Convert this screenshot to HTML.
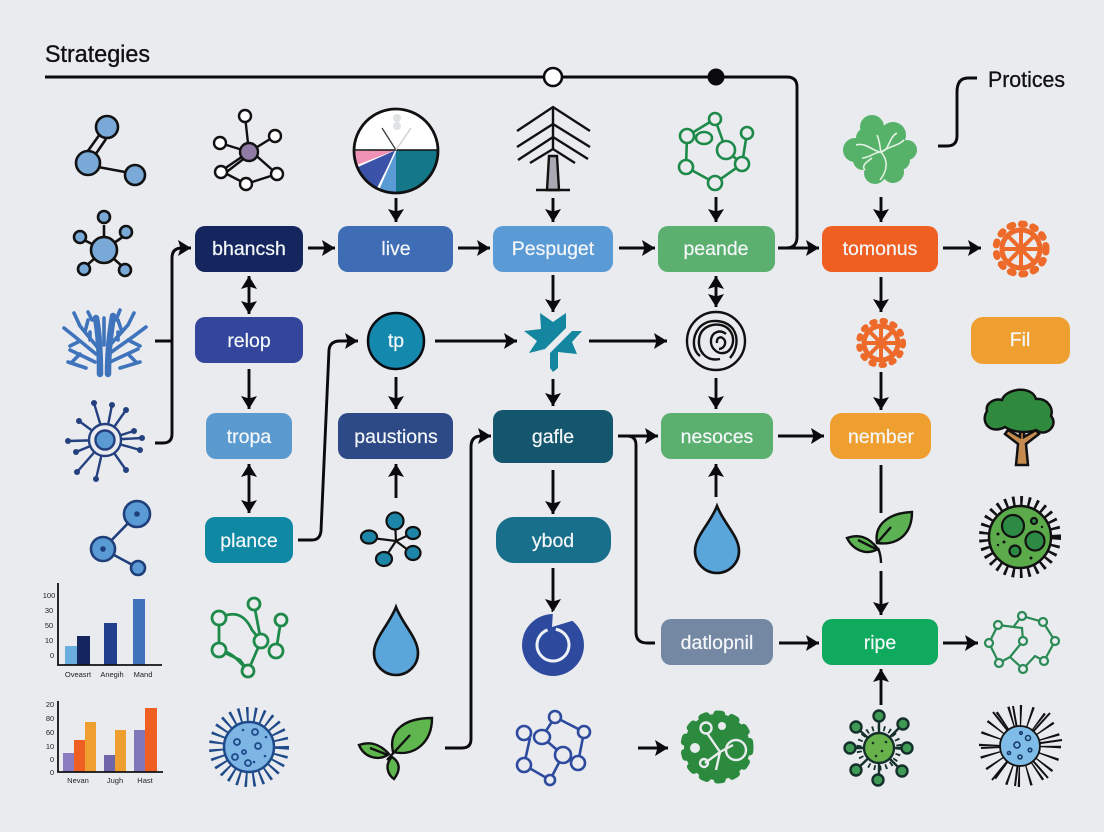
<!DOCTYPE html>
<html><head><meta charset="utf-8"><style>
html,body{margin:0;padding:0;background:#e9ebee}
svg{display:block}
text{font-family:"Liberation Sans",sans-serif}
.n{fill:#f4f7f9;font-size:19.5px;text-anchor:middle;stroke:#f4f7f9;stroke-width:.2}
.c{fill:none;stroke:#0b0b0f;stroke-width:2.9;stroke-linecap:butt}
.a{marker-end:url(#m)}
.b{marker-end:url(#m);marker-start:url(#ms)}
.s{font-size:7.5px;fill:#222;text-anchor:middle}
</style></head><body>
<svg width="1104" height="832" viewBox="0 0 1104 832" xmlns="http://www.w3.org/2000/svg">
<defs>
<marker id="m" markerUnits="userSpaceOnUse" markerWidth="15" markerHeight="18" refX="13" refY="9" orient="auto"><path d="M0,1 L13,9 L0,17 L2.5,9 Z" fill="#0b0b0f"/></marker>
<marker id="ms" markerUnits="userSpaceOnUse" markerWidth="15" markerHeight="18" refX="0" refY="9" orient="auto"><path d="M13,1 L0,9 L13,17 L10.5,9 Z" fill="#0b0b0f"/></marker>
</defs>
<rect width="1104" height="832" fill="#e9ebee"/>

<text x="45" y="62" font-size="24" fill="#111" stroke="#111" stroke-width=".35" textLength="105" lengthAdjust="spacingAndGlyphs">Strategies</text>
<text x="988" y="87" font-size="22" fill="#111" stroke="#111" stroke-width=".3" textLength="77" lengthAdjust="spacingAndGlyphs">Protices</text>

<!-- connectors -->
<path class="c" d="M45,77 H787 Q797,77 797,87 V237 Q797,248 786,248 H778"/>
<path class="c" d="M938,146 H947 Q957,146 957,136 V92 Q957,78 968,78 H977"/>
<circle cx="553" cy="77" r="9" fill="#fff" stroke="#0b0b0f" stroke-width="2.6"/>
<circle cx="716" cy="77" r="8.5" fill="#0b0b0f"/>
<path class="c" d="M155,341 H172"/>
<path class="c a" d="M155,443 H163 Q172,443 172,434 V258 Q172,248 182,248 H191"/>
<path class="c a" d="M298,540 H312 Q320,540 321,531 L329,350 Q330,341 340,341 H358"/>
<path class="c a" d="M445,748 H462 Q471,748 471,739 V447 Q471,436 481,436 H491"/>
<path class="c" d="M618,436 H627 Q636,436 636,445 V632 Q636,643 647,643 H655"/>
<path class="c" d="M881,465 V513"/>
<path class="c a" d="M308,248 H335"/><path class="c a" d="M458,248 H490"/><path class="c a" d="M619,248 H655"/>
<path class="c a" d="M779,248 H819"/><path class="c a" d="M943,248 H981"/>
<path class="c a" d="M396,198 V222"/><path class="c a" d="M553,198 V222"/><path class="c a" d="M716,197 V222"/><path class="c a" d="M881,197 V222"/>
<path class="c b" d="M249,276 V314"/><path class="c a" d="M249,369 V409"/><path class="c b" d="M249,464 V513"/>
<path class="c a" d="M553,275 V312"/><path class="c a" d="M553,379 V406"/><path class="c b" d="M716,276 V307"/>
<path class="c a" d="M716,378 V409"/><path class="c a" d="M881,277 V312"/><path class="c a" d="M881,372 V410"/>
<path class="c a" d="M396,377 V409"/><path class="c a" d="M396,498 V464"/><path class="c a" d="M716,497 V464"/>
<path class="c a" d="M553,470 V514"/><path class="c a" d="M553,568 V612"/><path class="c a" d="M881,571 V615"/><path class="c a" d="M881,705 V669"/>
<path class="c a" d="M435,341 H517"/><path class="c a" d="M589,341 H667"/><path class="c a" d="M618,436 H658"/>
<path class="c a" d="M778,436 H824"/><path class="c a" d="M779,643 H819"/><path class="c a" d="M943,643 H978"/><path class="c a" d="M638,748 H668"/>

<!-- nodes -->
<g>
<rect x="195" y="226" width="108" height="46" rx="10" fill="#15265e"/><text class="n" x="249" y="255">bhancsh</text>
<rect x="338" y="226" width="115" height="46" rx="10" fill="#3f6db5"/><text class="n" x="396" y="255">live</text>
<rect x="493" y="226" width="120" height="46" rx="10" fill="#5b9bd5"/><text class="n" x="553" y="255">Pespuget</text>
<rect x="658" y="226" width="117" height="46" rx="10" fill="#5bb070"/><text class="n" x="716" y="255">peande</text>
<rect x="822" y="226" width="116" height="46" rx="10" fill="#ef5f22"/><text class="n" x="880" y="255">tomonus</text>
<rect x="195" y="317" width="108" height="46" rx="10" fill="#33469c"/><text class="n" x="249" y="347">relop</text>
<rect x="206" y="413" width="86" height="46" rx="10" fill="#5b9acf"/><text class="n" x="249" y="443">tropa</text>
<rect x="205" y="517" width="88" height="46" rx="10" fill="#0f88a3"/><text class="n" x="249" y="547">plance</text>
<rect x="338" y="413" width="115" height="46" rx="10" fill="#2d4a86"/><text class="n" x="396" y="443">paustions</text>
<rect x="493" y="410" width="120" height="53" rx="10" fill="#14566e"/><text class="n" x="553" y="443">gafle</text>
<rect x="661" y="413" width="112" height="46" rx="10" fill="#5bb070"/><text class="n" x="717" y="443">nesoces</text>
<rect x="830" y="413" width="101" height="46" rx="12" fill="#ef9f2f"/><text class="n" x="881" y="443">nember</text>
<rect x="971" y="317" width="99" height="47" rx="12" fill="#ef9f2f"/><text class="n" x="1020" y="346">Fil</text>
<rect x="496" y="517" width="115" height="46" rx="18" fill="#176f8c"/><text class="n" x="553" y="547">ybod</text>
<rect x="661" y="619" width="112" height="46" rx="10" fill="#7487a3"/><text class="n" x="717" y="649">datlopnil</text>
<rect x="822" y="619" width="116" height="46" rx="10" fill="#0faa5e"/><text class="n" x="880" y="649">ripe</text>
<circle cx="396" cy="341" r="28" fill="#1588ad" stroke="#0b0b0f" stroke-width="2.5"/><text class="n" x="396" y="347">tp</text>
</g>

<!-- col 1 icons -->
<g stroke="#111" stroke-width="2.6" fill="#7aa9d8">
<path d="M100,134 L85,155 M106,139 L93,158 M98,167 L125,172" fill="none"/>
<circle cx="107" cy="127" r="11"/><circle cx="88" cy="163" r="12"/><circle cx="135" cy="175" r="10"/>
<path d="M104,250 V225 M104,250 L84,240 M104,250 L124,236 M104,250 L86,266 M104,250 L123,267" fill="none"/>
<circle cx="104" cy="250" r="13"/><circle cx="104" cy="217" r="6"/><circle cx="80" cy="237" r="6"/><circle cx="126" cy="232" r="6"/><circle cx="84" cy="269" r="6"/><circle cx="125" cy="270" r="6"/>
</g>
<g stroke="#3f74bd" stroke-width="3.6" fill="none" stroke-linecap="round">
<path stroke-width="6.5" d="M100,374 C100,350 99,335 96,318 M108,374 C108,350 110,335 113,316"/>
<path d="M98,348 L80,326 L74,313 M85,332 L88,320 M96,354 L74,336 L64,328 M80,341 L70,346 M95,362 L70,350 M80,354 L72,362 M86,368 L68,362 M104,345 L104,318 M110,345 L128,325 L134,313 M122,332 L118,320 M110,353 L134,336 L146,327 M128,340 L140,346 M110,362 L138,349 M128,354 L136,362 M120,368 L140,362 M92,320 L88,312 M116,320 L120,310 M90,340 L90,332 M118,340 L118,332"/>
</g>
<g stroke="#24407f" stroke-width="2.4" fill="none" stroke-linecap="round">
<path d="M105,440 L94,403 M105,440 L112,405 M105,440 L126,410 M105,440 L79,421 M105,440 L134,431 M105,440 L68,441 M105,440 L142,438 M105,440 L76,452 M105,440 L140,450 M105,440 L77,472 M105,440 L126,470 M105,440 L96,479"/>
<circle cx="105" cy="440" r="16" fill="#e9ebee"/>
<circle cx="105" cy="440" r="9.5" fill="#5b9bd5"/>
<g fill="#24407f" stroke="none"><circle cx="94" cy="403" r="3"/><circle cx="112" cy="405" r="3"/><circle cx="126" cy="410" r="3"/><circle cx="79" cy="421" r="3"/><circle cx="134" cy="431" r="3"/><circle cx="68" cy="441" r="3"/><circle cx="142" cy="438" r="3"/><circle cx="76" cy="452" r="3"/><circle cx="140" cy="450" r="3"/><circle cx="77" cy="472" r="3"/><circle cx="126" cy="470" r="3"/><circle cx="96" cy="479" r="3"/></g>
</g>
<g stroke="#1f3f7a" stroke-width="2.6" fill="#5b9bd5">
<path d="M137,514 L103,549 L138,568" fill="none"/>
<circle cx="137" cy="514" r="13"/><circle cx="103" cy="549" r="12"/><circle cx="138" cy="568" r="7"/>
<circle cx="137" cy="514" r="1.5" fill="#1f3f7a"/><circle cx="103" cy="549" r="1.5" fill="#1f3f7a"/>
</g>

<!-- charts -->
<g>
<rect x="65" y="646" width="12" height="19" fill="#6aaee0"/><rect x="77" y="636" width="13" height="29" fill="#15265e"/><rect x="104" y="623" width="13" height="42" fill="#23408f"/><rect x="133" y="599" width="12" height="66" fill="#3f74bd"/>
<path d="M58,583 V665 H162" fill="none" stroke="#111" stroke-width="1.8"/>
<text class="s" x="49" y="598">100</text><text class="s" x="49" y="613">30</text><text class="s" x="49" y="628">50</text><text class="s" x="49" y="643">10</text><text class="s" x="52" y="658">0</text>
<text class="s" x="78" y="677">Oveasrt</text><text class="s" x="112" y="677">Anegih</text><text class="s" x="143" y="677">Mand</text>
<rect x="63" y="753" width="11" height="19" fill="#8a7cc0"/><rect x="74" y="740" width="11" height="32" fill="#ef5f22"/><rect x="85" y="722" width="11" height="50" fill="#ef9f2f"/><rect x="104" y="755" width="11" height="17" fill="#6f65a8"/><rect x="115" y="730" width="11" height="42" fill="#ef9f2f"/><rect x="134" y="730" width="11" height="42" fill="#7f78b8"/><rect x="145" y="708" width="12" height="64" fill="#ef5f22"/>
<path d="M58,701 V772 H163" fill="none" stroke="#111" stroke-width="1.8"/>
<text class="s" x="50" y="707">20</text><text class="s" x="50" y="721">80</text><text class="s" x="50" y="735">60</text><text class="s" x="50" y="749">10</text><text class="s" x="52" y="762">0</text><text class="s" x="52" y="775">0</text>
<text class="s" x="78" y="783">Nevan</text><text class="s" x="115" y="783">Jugh</text><text class="s" x="145" y="783">Hast</text>
</g>

<!-- col 2 icons -->
<g stroke="#111" stroke-width="2.4" fill="#fff">
<path d="M249,152 L245,116 M249,152 L220,143 M249,152 L275,136 M249,152 L221,171 M252,152 L277,174 M246,157 L224,174 M221,171 L246,184 L277,174" fill="none"/>
<circle cx="245" cy="116" r="6"/><circle cx="220" cy="143" r="6"/><circle cx="275" cy="136" r="6"/><circle cx="221" cy="172" r="6"/><circle cx="277" cy="174" r="6"/><circle cx="246" cy="184" r="6"/>
<circle cx="249" cy="152" r="9" fill="#8f7ba5"/>
</g>
<g stroke="#1e8a4a" stroke-width="2.8" fill="none">
<path d="M219,618 V650 L240,660 L248,671 L261,641 L254,604 M219,618 C235,610 245,615 252,630 L261,641 M281,620 L276,651 M219,650 C232,652 238,660 248,671"/>
<g fill="#e9ebee"><circle cx="219" cy="618" r="7"/><circle cx="254" cy="604" r="6"/><circle cx="281" cy="620" r="6"/><circle cx="219" cy="650" r="7"/><circle cx="261" cy="641" r="7"/><circle cx="276" cy="651" r="7"/><circle cx="248" cy="671" r="6"/></g>
</g>
<g>
<circle cx="249" cy="747" r="32" fill="none" stroke="#1f4a8a" stroke-width="16" stroke-dasharray="2.2 5.2"/>
<circle cx="249" cy="747" r="25" fill="#7db5e5" stroke="#1f4a8a" stroke-width="2.5"/>
<g fill="none" stroke="#1f4a8a" stroke-width="1.8"><circle cx="237" cy="742" r="3"/><circle cx="255" cy="732" r="3"/><circle cx="258" cy="746" r="3"/><circle cx="235" cy="757" r="3"/><circle cx="248" cy="763" r="3"/><circle cx="244" cy="752" r="2"/></g>
<g fill="#1f4a8a"><circle cx="243" cy="730" r="1.3"/><circle cx="266" cy="737" r="1.3"/><circle cx="265" cy="756" r="1.3"/><circle cx="254" cy="762" r="1.3"/></g>
</g>

<!-- pie -->
<g>
<circle cx="396" cy="151" r="42" fill="#fff"/>
<path d="M396,150 H438 A42,42 0 0 1 396,193 Z" fill="#14788a"/>
<path d="M396,150 L396,193 A42,42 0 0 1 379,190 Z" fill="#5b9bd5"/>
<path d="M396,150 L377,188 A42,42 0 0 1 358,167 Z" fill="#3a52a8"/>
<path d="M396,150 L357,165 A42,42 0 0 1 354,151 Z" fill="#ef92b6"/>
<path d="M396,150 L378,190" stroke="#fff" stroke-width="1.5"/>
<path d="M354,150 H438" stroke="#111" stroke-width="1.5"/>
<path d="M396,150 L382,128" stroke="#333" stroke-width="1.2"/><path d="M396,150 L411,128" stroke="#ccc" stroke-width="1.2"/>
<circle cx="397" cy="118" r="4" fill="#dfe3e4"/><circle cx="397" cy="126" r="4" fill="#dfe3e4"/>
<circle cx="396" cy="151" r="42" fill="none" stroke="#111" stroke-width="2.8"/>
</g>

<!-- col 3 lower icons -->
<g stroke="#111" stroke-width="2.2" fill="#1d86a8">
<path d="M396,541 L395,521 M396,541 L372,538 M396,541 L413,533 M396,541 L384,559 M396,541 L412,553" fill="none"/>
<circle cx="395" cy="521" r="8.5"/><ellipse cx="369" cy="537" rx="8" ry="6.5"/><ellipse cx="413" cy="533" rx="7" ry="6"/><ellipse cx="384" cy="559" rx="8" ry="7"/><ellipse cx="413" cy="553" rx="7.5" ry="7"/>
</g>
<path d="M396,607 C389,625 374,638 374,653 A22,22 0 0 0 418,653 C418,638 403,625 396,607 Z" fill="#5aa5da" stroke="#111" stroke-width="2.6"/>
<path d="M717,506 C710,524 695,536 695,551 A22,22 0 0 0 739,551 C739,536 724,524 717,506 Z" fill="#5aa5da" stroke="#111" stroke-width="2.6"/>
<g stroke="#111" stroke-width="2.4" fill="#5fb64f">
<path d="M393,752 C388,730 405,718 432,718 C432,742 415,757 393,752 Z"/>
<path d="M389,754 C378,742 368,742 359,745 C364,757 378,762 389,754 Z"/>
<path d="M392,757 C384,765 388,775 394,779 C401,770 400,762 392,757 Z"/>
<path d="M410,735 L387,760 M370,748 L388,755" fill="none"/>
</g>

<!-- tree chevrons -->
<g fill="none" stroke="#111" stroke-width="2.4">
<path d="M517,131 L553,107 L590,131 M517,147 L553,124 L590,147 M518,160 L553,137 L588,159 M530,163 L553,149 L575,163"/>
<path d="M553,107 V150"/>
<path d="M549,156 L547,190 H559 L557,156 Z" fill="#a9a9b3"/>
<path d="M536,190 H570"/>
</g>
<!-- star -->
<g fill="#14869f">
<path d="M524,331 L541,329 L540,313 L553,322 L566,313 L566,328 L545,349 L529,353 L537,341 Z"/>
<path d="M572,331 H582 L572,342 L577,354 L558,352 V368 L553,372 L550,368 V353 Z"/>
</g>
<!-- blue ring -->
<g>
<circle cx="553" cy="645" r="31" fill="#2d4a9e"/>
<path d="M553,611 L552,627 L575,620 L568,608 Z" fill="#e9ebee"/>
<circle cx="553" cy="645" r="16" fill="none" stroke="#eef2f7" stroke-width="3" stroke-dasharray="92 9" transform="rotate(-80 553 645)"/>
</g>
<!-- blue network -->
<g stroke="#2d4a9e" stroke-width="2.6" fill="none">
<path d="M555,717 L584,732 L578,763 L563,755 L550,780 L524,765 L530,738 M555,717 L542,737 L563,755"/>
<g fill="#e9ebee"><circle cx="555" cy="717" r="6"/><circle cx="524" cy="733" r="7"/><circle cx="584" cy="732" r="6"/><ellipse cx="542" cy="737" rx="8" ry="7"/><circle cx="563" cy="755" r="8"/><circle cx="524" cy="765" r="7"/><circle cx="578" cy="763" r="7"/><circle cx="550" cy="780" r="5"/></g>
</g>
<!-- green gear -->
<g>
<circle cx="717" cy="747" r="33" fill="#2b8a3e"/>
<circle cx="717" cy="747" r="33" fill="none" stroke="#2b8a3e" stroke-width="7" stroke-linecap="round" stroke-dasharray="5 10.5"/>
<g fill="none" stroke="#e9ebee" stroke-width="2.4"><path d="M707,733 L720,752 L716,770 M720,752 L705,763 M720,752 L733,745"/><circle cx="706" cy="728" r="5.5"/><circle cx="736" cy="750" r="10"/><circle cx="704" cy="763" r="4"/></g>
<circle cx="722" cy="726" r="4" fill="#e9ebee"/><circle cx="695" cy="748" r="5" fill="#e9ebee"/>
</g>

<!-- top green network -->
<g stroke="#1e8a4a" stroke-width="2.6" fill="none">
<path d="M687,136 L686,167 L715,183 L742,164 L726,150 L715,119 L687,136 M747,133 L742,164"/>
<g fill="#e9ebee"><circle cx="715" cy="119" r="6"/><circle cx="687" cy="136" r="7"/><circle cx="747" cy="133" r="6"/><circle cx="726" cy="150" r="9"/><circle cx="742" cy="164" r="7"/><circle cx="686" cy="167" r="7"/><circle cx="715" cy="183" r="7"/><ellipse cx="704" cy="138" rx="8" ry="6"/></g>
</g>
<!-- spiral -->
<g fill="none" stroke="#111" stroke-width="2.4">
<circle cx="716" cy="341" r="29"/>
<path d="M720,359 C705,362 698,350 699,340 C700,326 715,322 724,326 C735,331 736,346 727,352 C718,356 710,348 711,340 C712,332 720,329 726,334 M717,343 C716,337 722,335 725,341 C726,347 721,349 719,349 M730,358 C737,350 739,338 733,329 C725,319 708,318 699,328 C692,337 692,350 700,356"/>
</g>
<!-- green blob -->
<g fill="#55b268">
<circle cx="872" cy="127" r="12"/><circle cx="893" cy="135" r="13"/><circle cx="855" cy="150" r="12"/><circle cx="907" cy="150" r="10"/><circle cx="875" cy="173" r="11"/><circle cx="893" cy="172" r="11"/><circle cx="863" cy="160" r="10"/><circle cx="900" cy="160" r="10"/><circle cx="881" cy="150" r="17"/><circle cx="866" cy="138" r="10"/>
<path d="M856,145 C866,142 874,152 881,152 C890,150 888,138 897,133 M862,158 C870,158 874,152 881,152 C888,160 888,170 880,180 M865,170 C860,165 870,160 872,158 M881,152 C892,145 898,146 904,140 M877,135 C880,142 880,148 881,152" fill="none" stroke="#e4f0e4" stroke-width="1.6"/>
</g>
<!-- orange wheels -->
<g fill="none" stroke="#ee6a2a">
<circle cx="1021" cy="249" r="25" stroke-width="7" stroke-linecap="round" stroke-dasharray="3 8.8"/>
<circle cx="1021" cy="249" r="19" stroke-width="5"/>
<path stroke-width="4" d="M1021,230 V268 M1002,249 H1040 M1008,236 L1034,262 M1034,236 L1008,262"/>
<circle cx="881" cy="343" r="22" stroke-width="6" stroke-linecap="round" stroke-dasharray="2.5 8"/>
<circle cx="881" cy="343" r="17" stroke-width="5"/>
<path stroke-width="4" d="M881,326 V360 M864,343 H898 M869,331 L893,355 M893,331 L869,355"/>
</g>
<!-- tree -->
<g stroke="#111" stroke-width="2.5">
<path d="M1016,465 L1018,444 L1005,434 L1008,430 L1020,437 L1020,428 H1024 L1024,437 L1036,430 L1039,434 L1026,444 L1028,465 Z" fill="#c58a50"/>
<path d="M1005,427 C990,435 980,422 987,411 C985,403 995,398 1002,400 C1006,388 1032,385 1036,399 C1047,398 1054,408 1051,416 C1059,425 1046,438 1036,430 C1028,433 1014,433 1005,427 Z" fill="#2f8a3e"/>
</g>
<!-- leaf 2 -->
<g stroke="#111" stroke-width="2.4" fill="#5cb253">
<path d="M877,543 C874,525 888,513 912,512 C912,532 900,546 877,543 Z"/>
<path d="M878,549 C868,536 858,534 847,538 C853,550 866,556 878,549 Z"/>
<path d="M891,527 L877,543 M858,540 L878,550 M878,548 C880,553 881,558 881,563" fill="none"/>
</g>
<!-- green virus right -->
<g>
<circle cx="1020" cy="537" r="35.5" fill="none" stroke="#111" stroke-width="11" stroke-dasharray="2.6 5"/>
<circle cx="1020" cy="537" r="31" fill="#5cab4b" stroke="#111" stroke-width="2.5"/>
<g stroke="#111" stroke-width="2.2" fill="#2c8a45"><circle cx="1013" cy="526" r="11"/><circle cx="1035" cy="541" r="9.5"/><circle cx="1015" cy="551" r="5.5"/><circle cx="1034" cy="521" r="3"/></g>
<g fill="#111"><circle cx="998" cy="534" r="1.5"/><circle cx="1004" cy="542" r="1.5"/><circle cx="998" cy="545" r="1.2"/><circle cx="1031" cy="558" r="1.5"/><circle cx="1042" cy="527" r="1.2"/></g>
</g>
<!-- hex network -->
<g stroke="#2a8a55" stroke-width="2.2" fill="none">
<path d="M998,625 L1022,628 L1023,641 L1010,657 L999,663 L989,643 Z M1014,626 L1022,616 L1043,622 L1055,641 L1044,661 L1035,656 L1023,669 L1010,657"/>
<g fill="#e9ebee"><circle cx="998" cy="625" r="4"/><circle cx="1022" cy="616" r="4"/><circle cx="1043" cy="622" r="4"/><circle cx="1055" cy="641" r="4"/><circle cx="1044" cy="661" r="4"/><circle cx="1023" cy="669" r="4"/><circle cx="999" cy="663" r="4"/><circle cx="989" cy="643" r="4"/><circle cx="1023" cy="641" r="4"/></g>
</g>
<!-- green virus bottom -->
<g stroke="#15302a" stroke-width="2.4" fill="#3f9a55">
<path d="M879,748 V716 M879,748 L903,724 M879,748 H907 M879,748 L902,771 M879,748 V780 M879,748 L856,770 M879,748 H850 M879,748 L856,727" fill="none"/>
<circle cx="879" cy="748" r="20" fill="none" stroke-width="5" stroke-dasharray="1.8 4"/>
<circle cx="879" cy="748" r="15" fill="#68b24c"/>
<circle cx="879" cy="716" r="5.5"/><circle cx="903" cy="724" r="5.5"/><circle cx="907" cy="748" r="5.5"/><circle cx="902" cy="771" r="5.5"/><circle cx="878" cy="780" r="5.5"/><circle cx="856" cy="770" r="5.5"/><circle cx="850" cy="748" r="5.5"/><circle cx="856" cy="727" r="5.5"/>
<g fill="#15302a" stroke="none"><circle cx="873" cy="743" r="1.3"/><circle cx="882" cy="751" r="1.3"/><circle cx="876" cy="756" r="1.3"/><circle cx="886" cy="742" r="1.3"/></g>
</g>
<!-- urchin -->
<g>
<circle cx="1020" cy="746" r="30" fill="none" stroke="#111" stroke-width="22" stroke-dasharray="1.8 7.6"/>
<path stroke="#111" stroke-width="2" d="M1020,746 L1013,706 M1020,746 L1050,713 M1020,746 L1062,740 M1020,746 L1048,778 M1020,746 L1015,786 M1020,746 L992,780 M1020,746 L981,748 M1020,746 L993,712"/>
<circle cx="1020" cy="746" r="20" fill="#7fbde8" stroke="#111" stroke-width="1.8"/>
<g fill="none" stroke="#173a66" stroke-width="1.6"><circle cx="1017" cy="745" r="3"/><circle cx="1028" cy="738" r="2.5"/><circle cx="1030" cy="750" r="1.8"/><circle cx="1020" cy="757" r="2"/><circle cx="1009" cy="753" r="1.5"/><circle cx="1021" cy="733" r="1.3"/></g>
</g>
</svg>
</body></html>
